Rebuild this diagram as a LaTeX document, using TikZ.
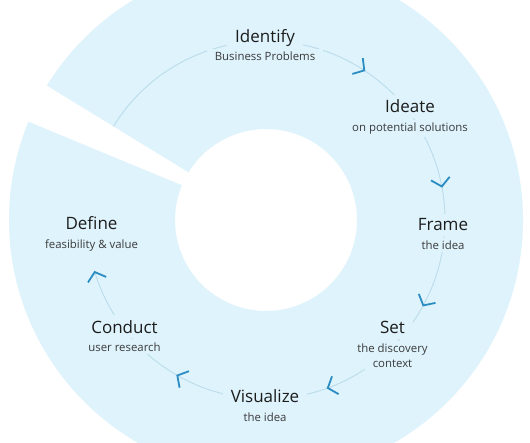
\documentclass[tikz,border=0pt]{standalone}
\usepackage{fontspec}
\setmainfont{Open Sans}
\usetikzlibrary{calc}
\definecolor{bandblue}{HTML}{DEF3FC}
\definecolor{arccol}{HTML}{BBDCEB}
\definecolor{chevcol}{HTML}{2B8DC2}
\definecolor{titlecol}{HTML}{1C1C1C}
\definecolor{subcol}{HTML}{3A3A3A}
\begin{document}
\begin{tikzpicture}[x=1pt,y=1pt,
  ttl/.style={anchor=base, fill=bandblue, inner xsep=8pt, inner ysep=5pt, text=titlecol, font=\fontsize{17}{20}\selectfont},
  sub/.style={anchor=base, fill=bandblue, inner xsep=8pt, inner ysep=3pt, text=subcol, font=\fontsize{11.4}{14}\selectfont},
  arcline/.style={draw=arccol, line width=0.9pt},
  chevron/.style={draw=chevcol, line width=1.8pt, line cap=butt, line join=miter}]
\useasboundingbox (0,0) rectangle (530,442);
\clip (0,0) rectangle (530,442);
\fill[white] (0,0) rectangle (530,442);
\coordinate (C) at (266,222);
% band
\fill[bandblue, even odd rule] (C) circle[radius=257] (C) circle[radius=91];
% wedge gap
\fill[white] (C) -- +(148.5:330) -- +(157.5:330) -- cycle;
% connector arc
\draw[arcline] ($(C)+(148.5:179)$) arc[start angle=148.5, end angle=-163.1, radius=179];
% labels
\node[ttl] (identify) at (265,399.3) {Identify};
\node[sub] (identifys) at (265,381.3) {Business Problems};
\node[ttl] (ideate) at (410,329.3) {Ideate};
\node[sub] (ideates) at (410,310.5) {on potential solutions};
\node[ttl] (frame) at (443,211) {Frame};
\node[sub] (frames) at (443,192.7) {the idea};
\node[ttl] (set) at (392.5,108.3) {Set};
\node[sub] (sets) at (392.5,89.3) {the discovery};
\node[sub] (sets2) at (392.5,74.3) {context};
\node[ttl] (visualize) at (265,39.3) {Visualize};
\node[sub] (visualizes) at (265,21) {the idea};
\node[ttl] (conduct) at (124.5,108.7) {Conduct};
\node[sub] (conducts) at (124.5,91) {user research};
\node[ttl] (define) at (91.5,212) {Define};
\node[sub] (defines) at (91.5,193) {feasibility \& value};
% chevrons
\foreach \a in {56.7,10.8,-28.5,-69.8,-119.7,-163.1} {
  \draw[chevron, shift={(C)}, rotate=\a] (179,0) ++(9.5,8) -- (179,0) -- ++(-9.5,8);
}
\end{tikzpicture}
\end{document}
